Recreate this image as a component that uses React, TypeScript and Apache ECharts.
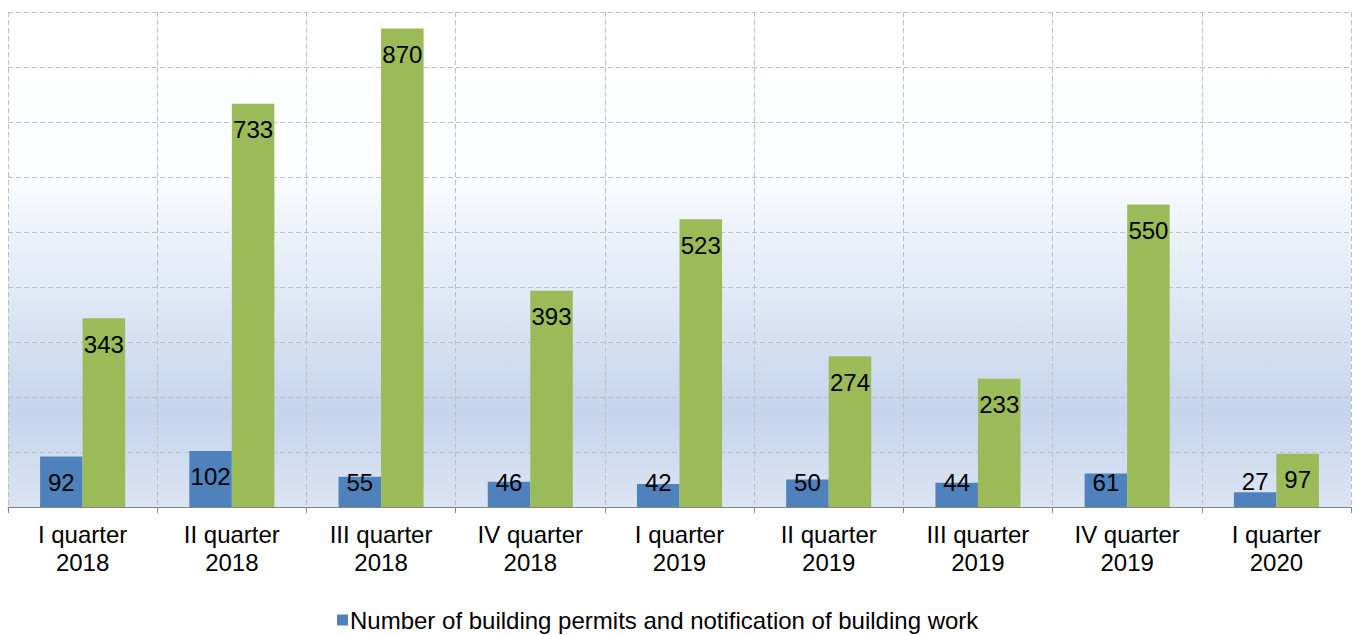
import React, { useEffect, useRef } from "react";
import * as echarts from "echarts";

const categories = [
  "I quarter\n2018",
  "II quarter\n2018",
  "III quarter\n2018",
  "IV quarter\n2018",
  "I quarter\n2019",
  "II quarter\n2019",
  "III quarter\n2019",
  "IV quarter\n2019",
  "I quarter\n2020",
];
const permits = [92, 102, 55, 46, 42, 50, 44, 61, 27];
const secondSeries = [343, 733, 870, 393, 523, 274, 233, 550, 97];
const seriesNames = [
  "Number of building permits and notification of building work",
  "Number of dwellings",
];

const FONT = "Arial, 'Liberation Sans', sans-serif";

export default function App() {
  const ref = useRef<HTMLDivElement>(null);
  useEffect(() => {
    if (!ref.current) return;
    const chart = echarts.init(ref.current, null, { renderer: "svg" });
    const labelFor = (v: number) => {
      if (v < 40) return { value: v, label: { position: "top", distance: -1 } };
      if (v < 95) return { value: v, label: { position: "insideBottom", distance: 13 } };
      return v;
    };
    const labelBase = {
      show: true,
      position: "insideTop",
      distance: 14,
      color: "#000",
      fontSize: 24,
      fontFamily: FONT,
    };
    chart.setOption({
      animation: false,
      textStyle: { fontFamily: FONT },
      grid: {
        left: 8,
        right: 6,
        top: 12,
        bottom: 128,
        show: true,
        borderWidth: 0,
        backgroundColor: new echarts.graphic.LinearGradient(0, 0, 0, 1, [
          { offset: 0, color: "#ffffff" },
          { offset: 0.3, color: "#fdfeff" },
          { offset: 0.81, color: "#c5d5ec" },
          { offset: 1, color: "#dbe4f3" },
        ]),
      },
      legend: {
        data: [seriesNames[0]],
        left: 332,
        top: 603,
        itemWidth: 11,
        itemHeight: 11,
        itemGap: 10,
        icon: "rect",
        textStyle: { fontSize: 24, color: "#000", fontFamily: FONT, padding: [0, 0, 0, -3] },
      },
      xAxis: {
        type: "category",
        data: categories,
        boundaryGap: true,
        axisLine: { show: true, lineStyle: { color: "#868686", width: 1 } },
        axisTick: { show: true, length: 6, lineStyle: { color: "#868686" } },
        axisLabel: {
          color: "#000",
          fontSize: 24,
          lineHeight: 28,
          margin: 13,
          fontFamily: FONT,
          interval: 0,
        },
        splitLine: {
          show: true,
          lineStyle: { color: "#bfbfbf", type: [5, 3], width: 1 },
        },
      },
      yAxis: {
        type: "value",
        min: 0,
        max: 900,
        interval: 100,
        axisLabel: { show: false },
        axisLine: { show: false },
        axisTick: { show: false },
        splitLine: {
          show: true,
          lineStyle: { color: "#bfbfbf", type: [5, 3], width: 1 },
        },
      },
      series: [
        {
          name: seriesNames[0],
          type: "bar",
          data: permits.map(labelFor),
          barGap: "0%",
          barCategoryGap: "43%",
          itemStyle: { color: "#4f81bd" },
          label: labelBase,
        },
        {
          name: seriesNames[1],
          type: "bar",
          data: secondSeries,
          barGap: "0%",
          barCategoryGap: "43%",
          itemStyle: { color: "#9bbb59" },
          label: labelBase,
        },
      ],
    });
    return () => chart.dispose();
  }, []);
  return (
    <div
      ref={ref}
      style={{ position: "fixed", left: 0, top: 0, width: 1357, height: 635, background: "#fff" }}
    />
  );
}
